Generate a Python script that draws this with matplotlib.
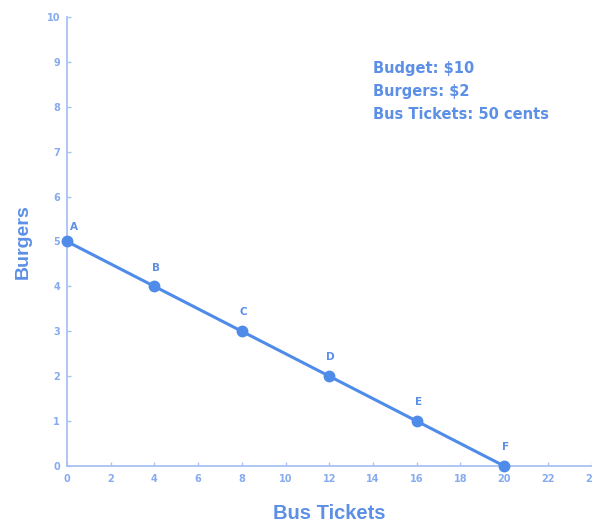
import matplotlib.pyplot as plt

# budget line data
tickets = [0, 4, 8, 12, 16, 20]
burgers = [5, 4, 3, 2, 1, 0]
labels = ['A', 'B', 'C', 'D', 'E', 'F']
info = ['Budget: $10', 'Burgers: $2', 'Bus Tickets: 50 cents']

line_c = '#4f8be8'
text_c = '#5c8fe6'
axis_c = '#a9c2f2'
tick_c = '#86abee'

plt.rcParams['font.family'] = ['DejaVu Sans']

fig = plt.figure(figsize=(5.92, 5.23), dpi=100)
ax = fig.add_axes([0.1132, 0.109, 0.886, 0.8585])

ax.plot(tickets, burgers, color=line_c, lw=2.2, marker='o', ms=7.5, clip_on=False, zorder=3)
for x, y, lab in zip(tickets, burgers, labels):
    dx = 5 if x == 0 else 1
    dy = 7 if x == 0 else 10
    ax.annotate(lab, (x, y), xytext=(dx, dy), textcoords='offset points',
                ha='center', va='bottom', color=text_c, fontsize=7.5, fontweight='bold')

ax.set_xlim(0, 24)
ax.set_ylim(0, 10)
ax.set_xticks(range(0, 25, 2))
ax.set_yticks(range(0, 11))

for s in ['top', 'right']:
    ax.spines[s].set_visible(False)
for s in ['left', 'bottom']:
    ax.spines[s].set_color(axis_c)
    ax.spines[s].set_linewidth(1.3)

ax.tick_params(direction='in', length=3, width=1, color=axis_c, labelcolor=tick_c, labelsize=7)
ax.tick_params(axis='x', pad=6)
ax.tick_params(axis='y', pad=5)
for t in ax.get_xticklabels() + ax.get_yticklabels():
    t.set_fontweight('bold')

# axis titles in a narrower face, closer to the reference widths
ax.set_xlabel('Bus Tickets', color=text_c, fontsize=14.5, fontweight='bold', labelpad=14,
              family='Liberation Sans')
ax.set_ylabel('Burgers', color=text_c, fontsize=14, fontweight='bold', labelpad=11,
              family='Liberation Sans')

for i, s in enumerate(info):
    fig.text(373 / 592, 1 - (69 + i * 22.5) / 523, s, color=text_c, fontsize=10.5,
             fontweight='bold', va='center', ha='left')

fig.savefig('out.png', dpi=100)
